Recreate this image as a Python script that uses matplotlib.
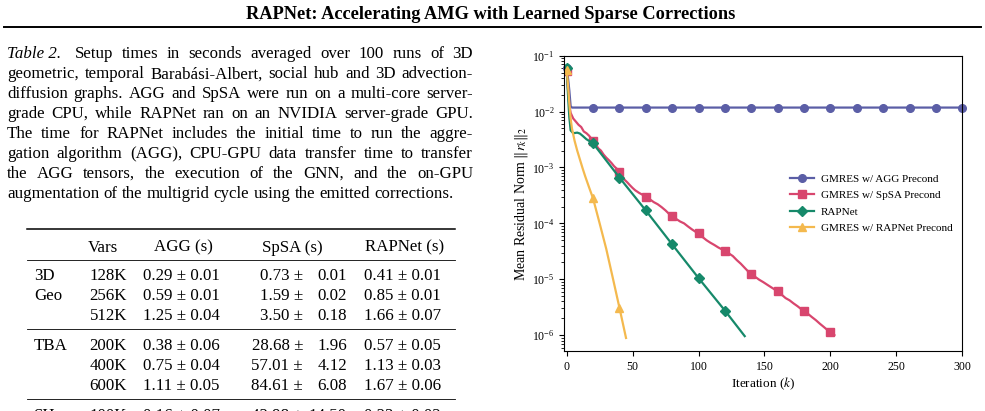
import numpy as np
import matplotlib
matplotlib.use('Agg')
from matplotlib import pyplot as plt
from matplotlib.lines import Line2D

plt.rcParams['font.family'] = ['Liberation Serif', 'DejaVu Serif']
plt.rcParams['mathtext.fontset'] = 'stix'

# ---- data ----
agg_iter = [0, 1, 2, 3, 4, 20, 40, 60, 80, 100, 120, 140, 160, 180, 200, 220, 240, 260, 280, 300]
agg_res = [0.060, 0.040, 0.024, 0.0125, 0.0118, 0.0118, 0.0118, 0.0118, 0.0118, 0.0118,
           0.0118, 0.0118, 0.0118, 0.0118, 0.0118, 0.0118, 0.0118, 0.0118, 0.0118, 0.0118]

spsa_iter = [0, 1, 2, 3, 5, 7, 9, 11, 13, 15, 17, 20, 22, 24, 26, 28, 30, 32, 34, 36, 38,
             40, 42, 44, 46, 48, 50, 52, 55, 58, 60, 63, 66, 69, 72, 75, 78, 80, 83, 86,
             89, 92, 95, 98, 100, 103, 106, 109, 112, 115, 118, 120, 123, 126, 129, 132,
             135, 138, 140, 143, 146, 149, 152, 155, 158, 160, 163, 166, 169, 172, 175,
             178, 180, 183, 186, 189, 192, 195, 198, 200, 203]
spsa_res = [0.053, 0.025, 0.013, 9.5e-3, 7.5e-3, 6.6e-3, 5.8e-3, 5.3e-3, 4.4e-3, 4.1e-3,
            3.7e-3, 3.0e-3, 2.6e-3, 2.2e-3, 2.0e-3, 1.7e-3, 1.5e-3, 1.35e-3, 1.2e-3,
            1.05e-3, 9.5e-4, 8.3e-4, 7.2e-4, 6.0e-4, 5.4e-4, 4.8e-4, 4.3e-4, 3.9e-4,
            3.5e-4, 3.2e-4, 3.0e-4, 2.7e-4, 2.4e-4, 2.2e-4, 1.95e-4, 1.7e-4, 1.45e-4,
            1.35e-4, 1.2e-4, 1.08e-4, 1.0e-4, 8.8e-5, 7.8e-5, 7.0e-5, 6.6e-5, 5.7e-5,
            5.0e-5, 4.5e-5, 4.1e-5, 3.7e-5, 3.4e-5, 3.2e-5, 2.9e-5, 2.6e-5, 2.2e-5,
            1.9e-5, 1.6e-5, 1.35e-5, 1.25e-5, 1.1e-5, 9.8e-6, 8.9e-6, 8.0e-6, 7.2e-6,
            6.5e-6, 6.1e-6, 5.3e-6, 4.6e-6, 4.2e-6, 3.7e-6, 3.3e-6, 2.9e-6, 2.75e-6,
            2.4e-6, 2.1e-6, 1.85e-6, 1.6e-6, 1.4e-6, 1.22e-6, 1.12e-6, 1.0e-6]

rap_iter = [0, 1, 2, 3, 5, 8, 10, 12, 15, 20, 40, 60, 80, 100, 120, 135]
rap_res = [0.060, 0.020, 8e-3, 4.6e-3, 4.1e-3, 4.2e-3, 4.05e-3, 3.7e-3, 3.2e-3, 2.7e-3,
           6.6e-4, 1.7e-4, 4.2e-5, 1.05e-5, 2.75e-6, 9.6e-7]

gmr_iter = [0, 1, 2, 3, 4, 6, 8, 10, 12, 14, 17, 20, 25, 30, 35, 40, 45]
gmr_res = [0.055, 0.030, 0.014, 7.5e-3, 5.0e-3, 3.0e-3, 2.0e-3, 1.4e-3, 9.8e-4, 7.0e-4,
           4.4e-4, 2.8e-4, 1.0e-4, 3.5e-5, 1.05e-5, 3.1e-6, 8.9e-7]

labels = ['GMRES w/ AGG Precond', 'GMRES w/ SpSA Precond', 'RAPNet', 'GMRES w/ RAPNet Precond']
colors = ['#5b5ea6', '#d8466e', '#16896a', '#f4b94e']
markers = ['o', 's', 'D', '^']

title = 'RAPNet: Accelerating AMG with Learned Sparse Corrections'
caption = [
    'Setup times in seconds averaged over 100 runs of 3D',
    'geometric, temporal Barabási-Albert, social hub and 3D advection-',
    'diffusion graphs. AGG and SpSA were run on a multi-core server-',
    'grade CPU, while RAPNet ran on an NVIDIA server-grade GPU.',
    'The time for RAPNet includes the initial time to run the aggre-',
    'gation algorithm (AGG), CPU-GPU data transfer time to transfer',
    'the AGG tensors, the execution of the GNN, and the on-GPU',
    'augmentation of the multigrid cycle using the emitted corrections.',
]
tab_header = ['Vars', 'AGG (s)', 'SpSA (s)', 'RAPNet (s)']
tab_group = [['3D', 'Geo', ''], ['TBA', '', ''], ['SH']]
tab_vars = [['128K', '256K', '512K'], ['200K', '400K', '600K'], ['100K']]
tab_agg = [['0.29 ± 0.01', '0.59 ± 0.01', '1.25 ± 0.04'],
           ['0.38 ± 0.06', '0.75 ± 0.04', '1.11 ± 0.05'], ['0.16 ± 0.07']]
tab_spsa_mean = [['0.73', '1.59', '3.50'], ['28.68', '57.01', '84.61'], ['42.98']]
tab_spsa_std = [['0.01', '0.02', '0.18'], ['1.96', '4.12', '6.08'], ['14.50']]
tab_rap = [['0.41 ± 0.01', '0.85 ± 0.01', '1.66 ± 0.07'],
           ['0.57 ± 0.05', '1.13 ± 0.03', '1.67 ± 0.06'], ['0.23 ± 0.02']]

W, H = 985, 411
fig = plt.figure(figsize=(W / 100, H / 100), dpi=100)
renderer = fig.canvas.get_renderer()


def X(x):
    return x / W


def Y(y):
    return 1 - y / H


def hline(x0, x1, y, lw):
    fig.add_artist(Line2D([X(x0), X(x1)], [Y(y), Y(y)], color='black', lw=lw,
                          transform=fig.transFigure))


# page header
fig.text(X(491), Y(19), title, fontsize=13.2, fontweight='bold', ha='center', va='baseline')
hline(4, 981, 27.5, 1.4)

# caption, justified
fs = 12.2
tab2 = fig.text(X(7), Y(58.3), 'Table 2.', fontsize=fs, style='italic', va='baseline')
for i, line in enumerate(caption):
    x0 = 75 if i == 0 else 7
    x1 = 473
    yb = 58.3 + i * 19.93
    words = line.split(' ')
    objs = [fig.text(X(x0), Y(yb), w, fontsize=fs, va='baseline') for w in words]
    widths = [o.get_window_extent(renderer).width for o in objs]
    if i == len(caption) - 1:
        gap = fs * 100 / 72 * 0.25
    else:
        gap = (x1 - x0 - sum(widths)) / (len(words) - 1)
    x = x0
    for o, w in zip(objs, widths):
        o.set_x(X(x))
        x += w + gap

# table
hline(27, 455, 229.3, 1.1)
hline(27, 455, 260, 0.6)
fig.text(X(103), Y(251.7), tab_header[0], fontsize=fs, ha='center', va='baseline')
fig.text(X(183), Y(251.7), tab_header[1], fontsize=fs, ha='center', va='baseline')
fig.text(X(292.5), Y(251.7), tab_header[2], fontsize=fs, ha='center', va='baseline')
fig.text(X(405), Y(251.7), tab_header[3], fontsize=fs, ha='center', va='baseline')
group_top = [280, 350, 419.7]
for g in range(3):
    for r in range(len(tab_vars[g])):
        yb = group_top[g] + r * 20.2
        fig.text(X(34), Y(yb), tab_group[g][r], fontsize=fs, va='baseline')
        fig.text(X(127), Y(yb), tab_vars[g][r], fontsize=fs, ha='right', va='baseline')
        fig.text(X(142.7), Y(yb), tab_agg[g][r], fontsize=fs, va='baseline')
        fig.text(X(303), Y(yb), tab_spsa_mean[g][r] + ' ±', fontsize=fs, ha='right', va='baseline')
        fig.text(X(347), Y(yb), tab_spsa_std[g][r], fontsize=fs, ha='right', va='baseline')
        fig.text(X(364), Y(yb), tab_rap[g][r], fontsize=fs, va='baseline')
    if g < 2:
        hline(27, 455, [329.3, 399.3][g], 0.6)

# convergence plot
ax = fig.add_axes([X(564.3), Y(351), (962.3 - 564.3) / W, (351 - 55.7) / H])
series = [(agg_iter, agg_res), (spsa_iter, spsa_res), (rap_iter, rap_res), (gmr_iter, gmr_res)]
for (it, res), lab, c, m in zip(series, labels, colors, markers):
    it = np.array(it)
    idx = list(np.where(it % 20 == 0)[0])
    ms = 5.5 if m != 's' else 6
    if m == 'D':
        ms = 5
    ax.plot(it, res, color=c, lw=1.6, marker=m, ms=ms, markevery=idx, label=lab,
            clip_on=(m != 'o'))

ax.set_yscale('log')
ax.set_xlim(-1.8, 300)
ax.set_ylim(5.2e-7, 1e-1)
ax.set_xticks([0, 50, 100, 150, 200, 250, 300])
ax.tick_params(labelsize=8.5, length=3.5)
ax.tick_params(which='minor', length=2)
ax.set_xlabel('Iteration ($k$)', fontsize=9.5, labelpad=2)
ax.set_ylabel('Mean Residual Norm $\\|r_k\\|_2$', fontsize=10, labelpad=1.5)
ax.legend(loc='upper left', bbox_to_anchor=(0.556, 0.615), frameon=False, fontsize=8,
          handlelength=2.2, handletextpad=0.6, labelspacing=0.6, borderaxespad=0)

plt.savefig('out.png', dpi=100)
